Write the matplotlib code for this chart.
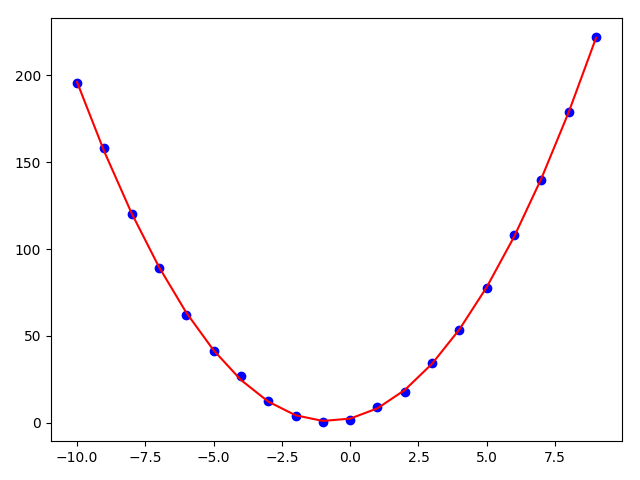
import numpy as np
import matplotlib
matplotlib.use("Agg")
import matplotlib.pyplot as plt

x = [-10, -9, -8, -7, -6, -5, -4, -3, -2, -1, 0, 1, 2, 3, 4, 5, 6, 7, 8, 9]
y = [195.4, 158.0, 119.9, 89.3, 62.2, 41.5, 27.1, 12.7, 4.0, 0.6,
     1.7, 9.2, 17.9, 34.6, 53.6, 77.8, 107.8, 140.0, 178.7, 221.9]

coef = np.polyfit(x, y, 2)
fit = np.polyval(coef, x)

fig, ax = plt.subplots(figsize=(6.4, 4.8), dpi=100)
ax.plot(x, y, 'bo')
ax.plot(x, fit, 'r-')
fig.subplots_adjust(left=51/640, right=622/640, top=1-18/480, bottom=1-441/480)
plt.savefig("out.png")
